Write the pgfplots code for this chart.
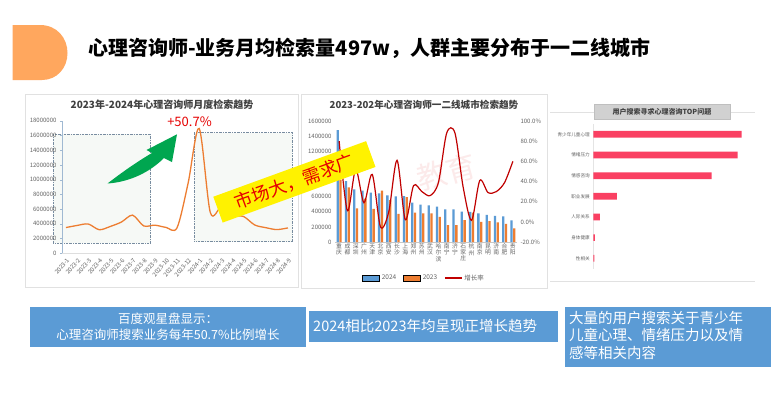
\documentclass[border=0pt]{standalone}
\usepackage{pgfplots}
\pgfplotsset{compat=1.18}
\usepackage{fontspec}
\setmainfont{Noto Sans CJK SC}
\definecolor{orangeD}{RGB}{255,167,94}
\definecolor{panelgray}{RGB}{225,225,225}
\definecolor{titlegray}{RGB}{64,64,64}
\definecolor{ticgray}{RGB}{100,100,100}
\definecolor{axgray}{RGB}{200,200,200}
\definecolor{yaxblue}{RGB}{160,185,210}
\definecolor{dashgray}{RGB}{120,140,160}
\definecolor{boxfill}{RGB}{246,249,246}
\definecolor{lineorange}{RGB}{237,125,49}
\definecolor{b24}{RGB}{91,155,213}
\definecolor{o23}{RGB}{237,125,49}
\definecolor{lred}{RGB}{192,0,0}
\definecolor{pinkbar}{RGB}{250,64,98}
\definecolor{greenarrow}{RGB}{0,166,80}
\definecolor{boxblue}{RGB}{91,155,213}
\definecolor{redtxt}{RGB}{230,0,0}
\definecolor{wmpink}{RGB}{240,150,150}
\pgfplotsset{/pgf/number format/assume math mode=true}
\begin{document}
\begin{tikzpicture}
\useasboundingbox (0,0) rectangle (775pt,-399pt);
\fill[white] (0,0) rectangle (775pt,-399pt);
\begin{scope}[x=1pt,y=-1pt]
 % header
 \fill[orangeD] (12.5,25) -- (40,25) .. controls (57,25) and (67.5,38) .. (67.5,53) .. controls (67.5,68) and (57,80) .. (42,80) -- (12.5,80) -- cycle;
 \node[anchor=west, font=\fontsize{20}{24}\selectfont\bfseries, inner sep=0pt] at (88,48.5) {心理咨询师-业务月均检索量497w，人群主要分布于一二线城市};
 % panel borders
 \draw[panelgray, line width=0.7pt] (25,94) rectangle (298,287);
 \draw[panelgray, line width=0.7pt] (301.5,94) rectangle (547,288);
 % chart titles
 \node[font=\fontsize{10}{12}\selectfont\bfseries, text=titlegray] at (162,105) {2023年-2024年心理咨询师月度检索趋势};
 \node[font=\fontsize{9.6}{12}\selectfont\bfseries, text=titlegray] at (424,105) {2023-202年心理咨询师一二线城市检索趋势};
 % dashed boxes
 \filldraw[fill=boxfill, draw=dashgray, line width=0.5pt, dash pattern=on 2pt off 1pt on 0.5pt off 1pt] (53.3,134.3) rectangle (150.7,243.3);
 \filldraw[fill=boxfill, draw=dashgray, line width=0.5pt, dash pattern=on 2pt off 1pt on 0.5pt off 1pt] (194.3,132.7) rectangle (292.7,241.7);
 % watermark
 \node[text=wmpink, opacity=0.2, font=\fontsize{30}{32}\selectfont, rotate=15] at (447,172) {教育};
 % right panel lines
 \draw[panelgray, line width=0.7pt] (550,112.7) -- (755,112.7);
 \draw[panelgray, line width=0.7pt] (550,281.7) -- (755,281.7);
\end{scope}

% ---------- left chart ----------
\begin{axis}[
 at={(62pt,-253.3pt)}, anchor=south west, scale only axis,
 width=229.3pt, height=132.6pt,
 xmin=-0.36, xmax=20.3, ymin=0, ymax=18000000,
 axis x line*=bottom, axis y line*=left,
 x axis line style={draw=axgray!60, -},
 y axis line style={draw=yaxblue, -},
 xtick={0,...,20},
 xticklabels={2023-1,2023-2,2023-3,2023-4,2023-5,2023-6,2023-7,2023-8,2023-9,2023-10,2023-11,2023-12,2024-1,2024-2,2024-3,2024-4,2024-5,2024-6,2024-7,2024-8,2024-9},
 x tick label style={rotate=50, anchor=north east, inner sep=1.5pt},
 ytick={0,2000000,4000000,6000000,8000000,10000000,12000000,14000000,16000000,18000000},
 scaled y ticks=false,
 yticklabel style={/pgf/number format/fixed, /pgf/number format/1000 sep={}},
 tick label style={font=\fontsize{6}{7}\selectfont, text=ticgray},
 xtick style={draw=none},
 ytick style={draw=yaxblue}, tick align=outside, major tick length=2pt,
]
\addplot[smooth, color=lineorange, line width=1.3pt] coordinates {
(0,3500000) (1,3780000) (2,3980000) (3,3200000) (4,3650000) (5,4250000) (6,5180000) (7,3720000) (8,3820000) (9,3520000) (10,3450000) (11,9500000) (12,16950000) (13,5550000) (14,6300000) (15,5150000) (16,5000000) (17,3850000) (18,3480000) (19,3220000) (20,3450000)};
\end{axis}

% ---------- middle chart bars ----------
\begin{axis}[
 at={(335pt,-242pt)}, anchor=south west, scale only axis,
 width=182pt, height=121pt,
 xmin=-0.5, xmax=21.5, ymin=0, ymax=1600000,
 axis y line*=left, axis x line*=bottom,
 y axis line style={draw=none}, x axis line style={draw=axgray, -},
 ytick={0,200000,400000,600000,800000,1000000,1200000,1400000,1600000},
 scaled y ticks=false,
 yticklabel style={/pgf/number format/fixed, /pgf/number format/1000 sep={}},
 xtick={0,...,21},
 xticklabels={{重\\庆},{成\\都},{深\\圳},{广\\州},{天\\津},{北\\京},{西\\安},{长\\沙},{上\\海},{郑\\州},{苏\\州},{武\\汉},{哈\\尔\\滨},{南\\宁},{济\\宁},{石\\家\\庄},{杭\\州},{南\\京},{昆\\明},{济\\南},{合\\肥},{贵\\阳}},
 xticklabel style={align=center, font=\fontsize{5.8}{6.4}\selectfont, anchor=north, inner sep=1.5pt},
 yticklabel style={font=\fontsize{6}{7}\selectfont},
 tick label style={text=ticgray},
 major tick length=0pt,
 ybar, bar width=2.3pt,
]
\addplot[fill=b24, draw=none, bar shift=-1.4pt] coordinates {
(0,1480000) (1,805000) (2,695000) (3,680000) (4,652000) (5,643000) (6,618000) (7,604000) (8,606000) (9,520000) (10,494000) (11,486000) (12,468000) (13,433000) (14,433000) (15,402000) (16,398000) (17,380000) (18,358000) (19,346000) (20,338000) (21,285000)};
\addplot[fill=o23, draw=none, bar shift=1.4pt] coordinates {
(0,820000) (1,722000) (2,446000) (3,572000) (4,437000) (5,678000) (6,555000) (7,373000) (8,592000) (9,389000) (10,380000) (11,377000) (12,332000) (13,224000) (14,224000) (15,290000) (16,390000) (17,267000) (18,275000) (19,259000) (20,241000) (21,179000)};
\end{axis}

% ---------- middle chart line ----------
\begin{axis}[
 at={(335pt,-242pt)}, anchor=south west, scale only axis,
 width=182pt, height=121pt,
 xmin=-0.5, xmax=21.5, ymin=-20, ymax=100,
 axis y line*=right, axis x line=none,
 y axis line style={draw=none},
 ytick={-20,0,20,40,60,80,100},
 yticklabel={\pgfmathprintnumber[fixed,fixed zerofill,precision=1]{\tick}\%},
 yticklabel style={font=\fontsize{6}{7}\selectfont, text=ticgray},
 major tick length=0pt,
 legend style={at={(0.49,-0.2975)}, anchor=center, legend columns=3, draw=none, fill=none,
   font=\fontsize{6.5}{7}\selectfont, text=ticgray,
   /tikz/every even column/.append style={column sep=5pt}},
]
\addlegendimage{area legend, fill=b24, draw=none}
\addlegendentry{2024}
\addlegendimage{area legend, fill=o23, draw=none}
\addlegendentry{2023}
\addplot[smooth, color=lred, line width=1.2pt] coordinates {
(0,80) (1,11) (2,52) (3,19) (4,47) (5,-5) (6,10) (7,61) (8,2) (9,36) (10,30) (11,26) (12,39) (13,88) (14,88) (15,34) (16,1.5) (17,41) (18,29) (19,30) (20,39) (21,60)};
\addlegendentry{增长率}
\end{axis}

% ---------- right chart ----------
\begin{axis}[
 at={(593.3pt,-268.6pt)}, anchor=south west, scale only axis,
 width=148.4pt, height=144.6pt,
 xmin=0, xmax=100, ymin=-0.5, ymax=6.5,
 xbar, bar width=6.7pt,
 axis x line=none, axis y line*=left,
 y axis line style={draw=axgray!50, -},
 ytick={0,...,6},
 yticklabels={性相关,身体健康,人际关系,职业发展,情感咨询,情绪压力,青少年儿童心理},
 yticklabel style={font=\fontsize{4.6}{5}\selectfont, text=ticgray},
 major tick length=0pt, clip=false,
]
\addplot[fill=pinkbar, draw=none] coordinates {(0.7,0) (1.1,1) (4.5,2) (15.9,3) (79.8,4) (97.3,5) (100,6)};
\end{axis}

\begin{scope}[x=1pt,y=-1pt]
 % green arrow
 \fill[greenarrow] (107.5,183.5) .. controls (125,170) and (140,160) .. (152,153) -- (146.5,150) -- (177,134.3) -- (172,162) -- (164,158) .. controls (150,172) and (130,182) .. (107.5,183.5) -- cycle;
 \node[text=redtxt, font=\fontsize{13}{14}\selectfont] at (189.5,122) {+50.7\%};
 % yellow banner
 \node[fill=yellow, minimum width=162.6pt, minimum height=27.5pt, inner sep=0pt, rotate=20, text=redtxt, font=\fontsize{18}{20}\selectfont] at (294.4,181.85) {市场大，需求广};
 % right title box
 \filldraw[fill=black!18, draw=black!25, line width=0.4pt] (594,104) rectangle (730,119);
 \node[font=\fontsize{7}{8}\selectfont\bfseries, text=titlegray] at (662,111.5) {用户搜索寻求心理咨询TOP问题};
 % bottom boxes
 \fill[boxblue] (30,307) rectangle (306,347);
 \node[text=white, font=\fontsize{12.5}{16}\selectfont, align=center] at (168,326.5) {百度观星盘显示：\\心理咨询师搜索业务每年50.7\%比例增长};
 \fill[boxblue] (308.5,311) rectangle (558,342);
 \node[text=white, anchor=west, font=\fontsize{14.5}{17}\selectfont, inner sep=0pt] at (313,326) {2024相比2023年均呈现正增长趋势};
 \fill[boxblue] (565,307) rectangle (771,367);
 \node[text=white, anchor=north west, align=left, font=\fontsize{14.5}{17.5}\selectfont, inner sep=0pt] at (569,311) {大量的用户搜索关于青少年\\儿童心理、情绪压力以及情\\感等相关内容};
\end{scope}
\end{tikzpicture}
\end{document}
